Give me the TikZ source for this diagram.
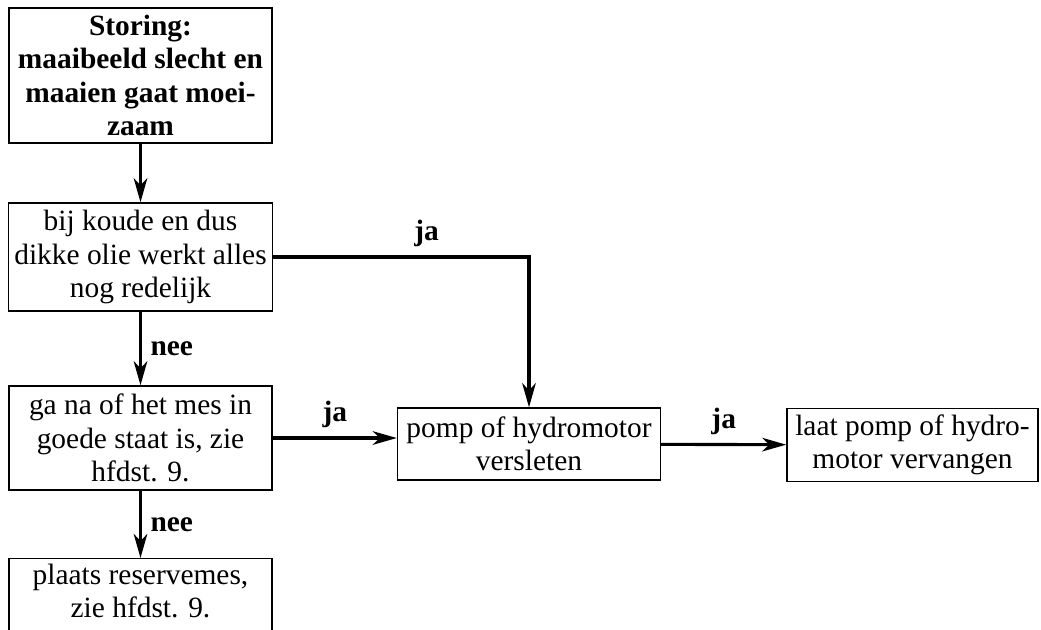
\documentclass[tikz,border=0pt]{standalone}
\usepackage{fontspec}
\setmainfont{Liberation Serif}
\usepackage{tikz}
\usetikzlibrary{arrows.meta,positioning}

\begin{document}
\begin{tikzpicture}[x=0.3536pt,y=-0.3536pt,
    box/.style={draw,line width=0.5pt,inner xsep=2pt,inner ysep=1pt,align=center,
                minimum width=93pt,font=\fontsize{10.4}{11.8}\selectfont},
    arr/.style={line width=1.1pt,-{Stealth[length=8.5pt,width=4.8pt,inset=2.5pt]}},
    lbl/.style={font=\fontsize{10.4}{12}\selectfont\bfseries,inner sep=3pt}]
    \useasboundingbox (0,0) rectangle (1041,629);
    % kolom links
    \node[box,line width=1pt,font=\fontsize{10.4}{11.8}\selectfont\bfseries,minimum height=47.7pt] (storing) at (140.5,75.5)
        {Storing:\\maaibeeld slecht en\\maaien gaat moei-\\zaam};
    \node[box,minimum height=38.2pt] (koude) at (140.5,257)
        {bij koude en dus\\dikke olie werkt alles\\nog redelijk};
    \node[box,minimum height=36.8pt] (mes) at (140.5,438)
        {ga na of het mes in\\goede staat is, zie\\hfdst. 9.};
    \node[box,anchor=north,minimum height=36.8pt,text depth=14pt] (reserve) at (140.5,558)
        {plaats reservemes,\\zie hfdst. 9.};
    % rechts
    \node[box,minimum height=25.5pt] (pomp) at (529,444)
        {pomp of hydromotor\\versleten};
    \node[box,minimum width=88.8pt,minimum height=26pt] (vervang) at (912.5,445)
        {laat pomp of hydro-\\motor vervangen};

    \draw[arr] (storing) -- (koude);
    \draw[arr] (koude) -- node[lbl,right] {nee} (mes);
    \draw[arr] (mes) -- node[lbl,right] {nee} (reserve);
    \draw[arr] (koude.east) -| node[lbl,above,pos=0.3] {ja} (pomp.north);
    \draw[arr] (mes.east) -- node[lbl,above] {ja} (pomp.west |- mes.east);
    \draw[arr] (pomp) -- node[lbl,above] {ja} (vervang);
\end{tikzpicture}
\end{document}
